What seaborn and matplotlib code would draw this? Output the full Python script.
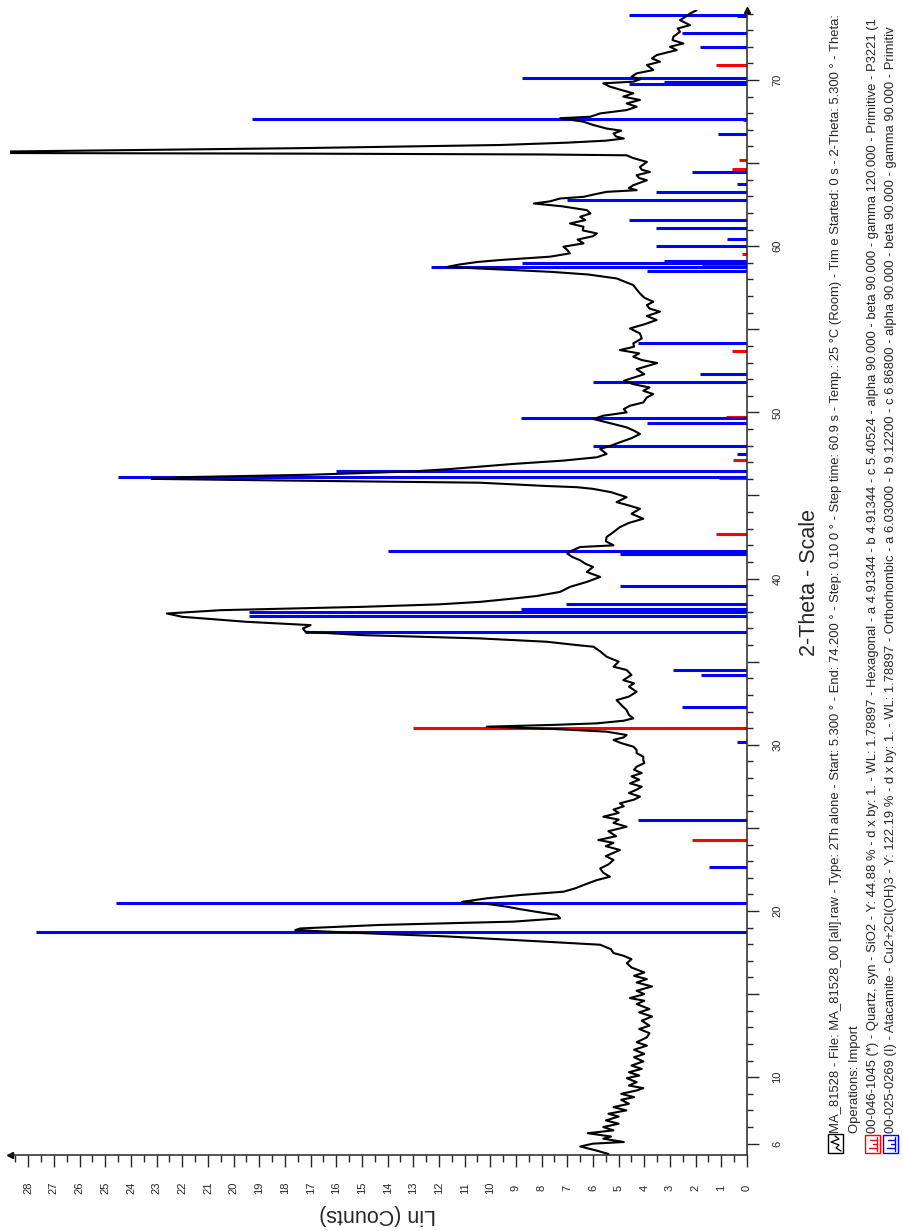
import numpy as np
import pandas as pd
import matplotlib
matplotlib.use('Agg')
import matplotlib.pyplot as plt
import seaborn as sns
from matplotlib.patches import Rectangle

two_theta = [5.38, 5.6, 5.83, 6.0, 6.1, 6.3, 6.43, 6.63, 6.8, 7.0, 7.2, 7.4, 7.63, 7.8, 8.0, 8.2, 8.4, 8.64,
             8.8, 9.0, 9.2, 9.34, 9.5, 9.7, 9.94, 10.1, 10.3, 10.5, 10.7, 10.95, 11.2, 11.4, 11.65, 11.9, 12.1,
             12.4, 12.65, 12.9, 13.1, 13.4, 13.65, 13.9, 14.1, 14.4, 14.6, 14.76, 15.0, 15.2, 15.46, 15.7, 15.9,
             16.1, 16.3, 16.6, 16.86, 17.1, 17.3, 17.47, 17.7, 17.97, 18.17, 18.47, 18.7, 18.85, 18.95, 19.16,
             19.26, 19.36, 19.56, 19.76, 19.95, 20.1, 20.26, 20.4, 20.55, 20.76, 20.96, 21.16, 21.36, 21.56,
             21.86, 22.06, 22.3, 22.56, 22.8, 23.07, 23.3, 23.67, 23.9, 24.1, 24.27, 24.5, 24.8, 25.07, 25.3,
             25.5, 25.67, 25.9, 26.1, 26.3, 26.48, 26.7, 26.88, 27.1, 27.3, 27.48, 27.68, 27.9, 28.1, 28.3, 28.5,
             28.68, 28.9, 29.08, 29.28, 29.5, 29.69, 29.89, 30.1, 30.29, 30.45, 30.59, 30.79, 30.95, 31.09, 31.2,
             31.29, 31.45, 31.59, 31.8, 32.09, 32.4, 32.69, 32.9, 33.19, 33.5, 33.7, 33.89, 34.2, 34.5, 34.7,
             35.0, 35.3, 35.6, 35.9, 36.0, 36.2, 36.4, 36.6, 36.8, 37.0, 37.2, 37.4, 37.7, 37.9, 38.1, 38.3,
             38.45, 38.6, 38.8, 38.95, 39.2, 39.5, 39.8, 40.1, 40.4, 40.7, 40.9, 41.1, 41.3, 41.5, 41.7, 41.9,
             42.0, 42.25, 42.5, 42.8, 43.1, 43.35, 43.6, 43.9, 44.2, 44.4, 44.6, 44.9, 45.2, 45.4, 45.5, 45.57,
             45.77, 45.9, 46.0, 46.1, 46.25, 46.45, 46.6, 46.74, 46.9, 47.1, 47.3, 47.5, 47.8, 48.0, 48.2, 48.45,
             48.7, 48.9, 49.1, 49.4, 49.6, 49.8, 50.0, 50.2, 50.4, 50.6, 50.9, 51.1, 51.3, 51.5, 51.7, 51.9,
             52.05, 52.3, 52.6, 52.97, 53.15, 53.35, 53.55, 53.75, 53.95, 54.15, 54.45, 54.75, 55.05, 55.3,
             55.56, 55.8, 56.06, 56.25, 56.46, 56.66, 56.9, 57.16, 57.4, 57.66, 58.06, 58.3, 58.46, 58.6, 58.75,
             58.9, 59.05, 59.17, 59.37, 59.57, 59.77, 59.97, 60.17, 60.4, 60.6, 60.77, 60.95, 61.17, 61.37,
             61.57, 61.77, 61.97, 62.17, 62.4, 62.57, 62.7, 62.87, 62.97, 63.1, 63.27, 63.37, 63.5, 63.67,
             63.97, 64.1, 64.27, 64.47, 64.6, 64.77, 65.07, 65.3, 65.47, 65.52, 65.57, 65.62, 65.7, 65.9,
             66.09, 66.23, 66.35, 66.48, 66.6, 66.78, 66.95, 67.08, 67.29, 67.49, 67.7, 67.79, 67.99, 68.19,
             68.39, 68.59, 68.8, 69.0, 69.2, 69.4, 69.6, 69.8, 69.9, 70.04, 70.2, 70.4, 70.6, 70.9, 71.1, 71.3,
             71.5, 71.8, 72.0, 72.2, 72.4, 72.6, 72.9, 73.1, 73.3, 73.6, 73.8, 74.0, 74.2]
lin_counts = [5.40, 5.9, 6.5, 6.0, 4.8, 5.6, 5.3, 6.2, 5.2, 5.6, 5.0, 5.5, 5.0, 5.4, 4.7, 5.2, 4.6, 4.9,
              4.4, 4.9, 4.3, 4.04, 4.6, 4.3, 4.68, 4.2, 4.6, 4.1, 4.5, 4.04, 4.4, 4.0, 4.4, 3.9, 4.3,
              3.9, 3.8, 4.2, 3.8, 4.1, 3.7, 4.2, 3.8, 4.3, 4.0, 4.56, 4.0, 4.3, 3.7, 4.3, 3.9,
              4.4, 4.0, 4.5, 4.68, 4.5, 4.8, 5.2, 5.3, 5.72, 8.06, 11.7, 15.5, 17.6, 17.4, 14.3,
              11.7, 9.1, 7.28, 7.4, 8.2, 8.8, 9.36, 10.0, 11.1, 10.14, 8.84, 7.15, 6.7, 6.37,
              5.85, 5.34, 5.6, 5.72, 5.4, 5.2, 5.5, 4.95, 5.5, 5.2, 5.79, 5.1, 5.4, 4.69, 5.2,
              5.0, 5.6, 5.0, 5.2, 4.8, 4.95, 4.4, 4.17, 4.6, 4.3, 4.1, 4.56, 4.2, 4.5, 4.1, 4.4,
              4.3, 4.0, 4.04, 4.04, 4.3, 4.3, 4.43, 4.9, 5.2, 4.8, 4.69, 5.47, 7.5, 10.14, 7.5,
              5.85, 4.8, 4.43, 4.6, 4.69, 4.9, 5.08, 4.6, 4.3, 4.6, 4.4, 4.82, 4.5, 4.69, 5.2,
              5.0, 5.47, 5.7, 5.98, 6.63, 7.8, 10.4, 15.0, 17.2, 17.3, 17.0, 19.5, 22.0, 22.6, 20.5, 15.0,
              12.0, 10.4, 9.1, 8.2, 7.28, 6.9, 6.24, 5.72, 6.24, 6.0, 6.3, 6.5, 6.8, 7.0, 6.8, 6.5,
              5.2, 5.5, 5.47, 5.2, 4.95, 4.6, 4.04, 4.5, 4.17, 4.6, 5.08, 4.69, 5.3, 6.0, 6.63, 7.8,
              10.4, 18.0, 23.2, 22.0, 17.0, 13.0, 11.5, 10.4, 9.1, 7.15, 5.85, 5.47, 5.72, 5.3, 4.95, 4.5,
              4.17, 4.4, 4.69, 5.47, 5.98, 5.6, 4.69, 4.8, 4.56, 4.04, 3.9, 3.65, 4.04, 3.8, 4.43, 4.8,
              4.5, 4.0, 4.3, 3.5, 4.1, 4.43, 4.2, 4.95, 4.4, 4.43, 4.1, 4.17, 4.56, 4.0,
              3.52, 3.9, 3.39, 3.8, 3.9, 3.65, 4.0, 4.17, 4.3, 4.43, 5.08, 6.2, 7.67, 9.6, 11.7,
              11.2, 10.5, 9.6, 7.67, 6.9, 7.0, 7.15, 6.37, 6.6, 6.0, 5.85, 6.4, 6.37, 6.9,
              6.3, 6.5, 6.1, 6.24, 7.2, 8.3, 7.67, 7.28, 6.37, 6.0, 5.47, 4.3, 4.6, 4.43,
              3.9, 4.2, 4.3, 3.78, 4.1, 4.17, 3.9, 4.43, 4.69, 8.0, 17.4, 33.0, 28.7, 17.4,
              9.6, 7.0, 5.5, 4.8, 5.1, 5.2, 4.9, 5.47, 5.98, 6.37, 7.28, 6.1, 5.72, 4.69,
              4.3, 4.69, 4.17, 4.82, 4.43, 4.9, 5.34, 5.6, 4.43, 4.17, 4.5, 4.3, 3.65, 3.9, 3.39, 3.7,
              3.52, 2.74, 3.0, 2.48, 2.9, 2.87, 2.61, 2.7, 2.22, 2.61, 2.4, 2.22, 1.96]

# reference sticks
quartz_pos = [24.27, 31.03, 42.68, 46.07, 47.14, 49.74, 53.7, 58.87, 59.51, 64.65, 65.19, 67.6, 70.9]
quartz_h = [2.13, 13.0, 1.2, 1.1, 0.56, 0.82, 0.57, 1.77, 0.2, 0.58, 0.3, 0.15, 1.21]
atacamite_pos = [18.75, 20.46, 22.63, 25.48, 30.19, 32.29, 34.22, 34.5, 36.77, 37.77, 37.97, 38.15,
                 38.45, 39.55, 41.48, 41.66, 46.13, 46.49, 47.5, 48.0, 49.38, 49.64, 51.85, 52.3, 54.2,
                 58.53, 58.77, 58.97, 59.11, 60.01, 60.41, 61.11, 61.57, 62.76, 63.28, 63.77, 64.45,
                 66.75, 67.63, 69.75, 69.85, 70.1, 71.97, 72.8, 73.85, 73.9]
atacamite_h = [27.7, 24.6, 1.47, 4.23, 0.4, 2.52, 1.8, 2.87, 17.2, 19.4, 19.4, 8.8,
               7.05, 4.95, 4.95, 14.0, 24.5, 16.0, 0.4, 5.99, 3.9, 8.8, 6.01, 1.83, 4.23,
               3.9, 12.3, 8.78, 3.22, 3.56, 0.77, 3.56, 4.6, 7.02, 3.56, 0.4, 2.15,
               1.12, 19.3, 4.6, 3.25, 8.78, 1.83, 2.54, 0.4, 4.6]

theta_ticks = [6, 10, 15, 20, 25, 30, 35, 40, 45, 50, 55, 60, 65, 70]
theta_labels = ['6', '10', '', '20', '', '30', '', '40', '', '50', '', '60', '', '70']
count_ticks = list(range(0, 29))

legend_lines = [
    "MA_81528 - File: MA_81528_00 [all].raw - Type: 2Th alone - Start: 5.300 \u00b0 - End: 74.200 \u00b0 - "
    "Step: 0.10 0 \u00b0 - Step time: 60.9 s - Temp.: 25 \u00b0C (Room) - Tim e Started: 0 s - 2-Theta: 5.300 \u00b0 - Theta:",
    "Operations: Import",
    "00-046-1045 (*) - Quartz, syn - SiO2 - Y: 44.88 % - d x by: 1. - WL: 1.78897 - Hexagonal - a 4.91344 - "
    "b 4.91344 - c 5.40524 - alpha 90.000 - beta 90.000 - gamma 120.000 - Primitive - P3221 (1",
    "00-025-0269 (I) - Atacamite - Cu2+2Cl(OH)3 - Y: 122.19 % - d x by: 1. - WL: 1.78897 - Orthorhombic - "
    "a 6.03000 - b 9.12200 - c 6.86800 - alpha 90.000 - beta 90.000 - gamma 90.000 - Primitiv",
]

sns.set_style('ticks')
plt.rcParams['font.family'] = ['Liberation Sans', 'DejaVu Sans']

W, H = 904, 1231
fig = plt.figure(figsize=(W / 100, H / 100), dpi=100)
# the whole diffractogram is turned on its side: 2-theta runs upward, counts run to the left
ax = fig.add_axes([10.3 / W, 1 - 1155.3 / H, (747 - 10.3) / W, (1155.3 - 10.2) / H])

ax.hlines(quartz_pos, 0, quartz_h, color='#ff0000', lw=2.2)
ax.hlines(atacamite_pos, 0, atacamite_h, color='#0000ff', lw=2.2)

df = pd.DataFrame({'theta': two_theta, 'counts': lin_counts})
sns.lineplot(data=df, x='counts', y='theta', orient='y', sort=True, estimator=None,
             color='black', lw=1.5, ax=ax)

ax.set_xlim(28.7, 0)
ax.set_ylim(5.3, 74.2)
ax.set_xlabel('')
ax.set_ylabel('')
sns.despine(ax=ax, top=True, left=True, right=False, bottom=False)
for s in ['right', 'bottom']:
    ax.spines[s].set_linewidth(1.1)

ax.yaxis.tick_right()
ax.set_yticks(theta_ticks)
ax.set_yticklabels(theta_labels)
ax.set_yticks(range(6, 75), minor=True)
ax.set_xticks(count_ticks)
ax.set_xticklabels([str(c) for c in count_ticks])
ax.set_xticks(np.arange(0.5, 28.6, 1), minor=True)

ax.tick_params(axis='y', which='major', length=8.6, width=1, labelsize=8, labelrotation=90, pad=13.3)
ax.tick_params(axis='y', which='minor', length=4.3, width=1)
ax.tick_params(axis='x', which='major', length=8.6, width=1, labelsize=8, labelrotation=90, pad=15.1)
ax.tick_params(axis='x', which='minor', length=5, width=1)
for lab in ax.get_yticklabels():
    lab.set_horizontalalignment('center')
    lab.set_verticalalignment('center')
for lab in ax.get_xticklabels():
    lab.set_verticalalignment('center')

# axis arrow heads
ax.plot([1], [1], marker='^', color='black', ms=5, transform=ax.transAxes, clip_on=False)
ax.plot([0], [0], marker='<', color='black', ms=5, transform=ax.transAxes, clip_on=False)

# overlay in pixel units for titles and the legend block
ov = fig.add_axes([0, 0, 1, 1])
ov.set_xlim(0, W)
ov.set_ylim(H, 0)
ov.axis('off')
ov.patch.set_alpha(0)

ov.text(810, 583, '2-Theta - Scale', rotation=90, ha='center', va='center', fontsize=15.5)
ov.text(378, 1215, 'Lin (Counts)', rotation=180, ha='center', va='center', fontsize=15.5)

line_x = [836, 855, 873, 891.5]
for x, txt in zip(line_x, legend_lines):
    ov.text(x, 1133, txt, rotation=90, rotation_mode='anchor', ha='left', va='center', fontsize=9.4)

# legend icons
ov.add_patch(Rectangle((828, 1134), 15, 19, fill=False, ec='black', lw=1))
ov.plot([841, 836, 839, 831, 839, 835], [1151, 1148, 1145, 1142, 1139, 1136], color='black', lw=0.9)
for x0, col in [(865, '#ff0000'), (883.5, '#0000ff')]:
    ov.add_patch(Rectangle((x0, 1135), 15, 18, fill=False, ec=col, lw=1))
    ov.plot([x0 + 12, x0 + 12], [1137, 1151], color=col, lw=1)
    ov.plot([x0 + 5, x0 + 12], [1140, 1140], color=col, lw=1)
    ov.plot([x0 + 8, x0 + 12], [1144, 1144], color=col, lw=1)
    ov.plot([x0 + 4, x0 + 12], [1148, 1148], color=col, lw=1)

fig.savefig('out.png', dpi=100)
